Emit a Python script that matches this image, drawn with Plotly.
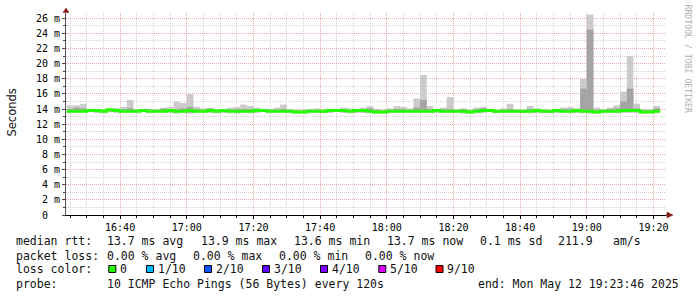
import plotly.graph_objects as go
from datetime import datetime, timedelta

# ---------------- data ----------------
graph_start = "2025-05-12 16:23:46"
graph_end = "2025-05-12 19:23:46"
first_step = "2025-05-12 16:24:00"
step_seconds = 120

# median rtt per 2-minute step (ms)
median = [13.7, 13.7, 13.7, 13.8, 13.8, 13.7, 13.9, 13.8, 13.7, 13.7, 13.7, 13.8, 13.7, 13.7, 13.7, 13.8, 13.7, 13.7, 13.8, 13.7, 13.7, 13.8,
          13.7, 13.8, 13.7, 13.7, 13.7, 13.7, 13.8, 13.8, 13.7, 13.7, 13.7, 13.7, 13.6, 13.6, 13.7, 13.7, 13.7, 13.8, 13.8, 13.8, 13.7, 13.8,
          13.8, 13.7, 13.6, 13.6, 13.7, 13.7, 13.7, 13.7, 13.7, 13.7, 13.7, 13.8, 13.7, 13.7, 13.7, 13.7, 13.6, 13.7, 13.8, 13.8, 13.7, 13.7, 13.7,
          13.7, 13.7, 13.7, 13.8, 13.7, 13.7, 13.8, 13.7, 13.7, 13.8, 13.7, 13.7, 13.6, 13.7, 13.7, 13.7, 13.8, 13.8, 13.8, 13.6, 13.6, 13.7]

# outer smoke (min..max of the pings)
smoke_hi = [14.5, 14.5, 14.7, 14.0, 14.0, 14.0, 14.0, 14.1, 14.3, 15.2, 14.0, 14.0, 14.0, 14.0, 14.1, 14.3, 15.0, 14.8, 16.0, 14.3, 14.1, 14.1,
            14.0, 14.0, 14.2, 14.3, 14.6, 14.4, 14.2, 14.0, 14.0, 14.2, 14.6, 14.0, 13.9, 13.9, 14.0, 14.1, 13.8, 14.0, 14.0, 14.2, 14.1, 14.0,
            14.2, 14.4, 14.0, 13.9, 14.1, 14.4, 14.3, 14.1, 15.4, 18.5, 14.4, 14.0, 14.2, 15.6, 14.0, 14.1, 13.9, 14.2, 14.3, 14.0, 13.9, 14.1, 14.7,
            14.0, 13.9, 14.4, 14.1, 14.0, 13.9, 14.0, 14.2, 14.3, 14.1, 18.0, 26.5, 14.2, 14.0, 14.2, 14.5, 16.3, 21.0, 14.7, 14.0, 14.0, 14.4]
smoke_lo = [13.5, 13.5, 13.5, 13.6, 13.5, 13.5, 13.6, 13.5, 13.5, 13.5, 13.5, 13.6, 13.5, 13.5, 13.5, 13.5, 13.4, 13.5, 13.4, 13.5, 13.5, 13.5,
            13.5, 13.5, 13.5, 13.4, 13.5, 13.5, 13.5, 13.6, 13.5, 13.5, 13.5, 13.5, 13.4, 13.4, 13.5, 13.5, 13.5, 13.5, 13.6, 13.5, 13.5, 13.5,
            13.5, 13.5, 13.4, 13.4, 13.5, 13.5, 13.5, 13.5, 13.5, 13.5, 13.5, 13.5, 13.5, 13.5, 13.5, 13.4, 13.4, 13.5, 13.5, 13.6, 13.5, 13.5, 13.5,
            13.5, 13.5, 13.5, 13.5, 13.5, 13.5, 13.5, 13.5, 13.5, 13.5, 13.5, 13.4, 13.4, 13.5, 13.5, 13.5, 13.5, 13.5, 13.5, 13.4, 13.4, 13.5]
# inner (darker) smoke
inner_hi = [14.0, 14.2, 14.1, 13.95, 13.9, 13.9, 14.0, 14.0, 14.0, 14.1, 13.9, 13.9, 13.9, 13.9, 14.1, 14.0, 14.0, 14.1, 14.3, 14.0, 13.9, 14.1,
            13.9, 14.0, 13.95, 14.0, 14.0, 14.0, 13.95, 13.9, 13.9, 13.95, 14.0, 13.9, 13.8, 13.8, 13.9, 13.9, 13.8, 13.9, 13.9, 14.0, 13.9, 13.9,
            14.0, 14.1, 13.9, 13.8, 13.9, 14.0, 14.0, 13.9, 14.2, 15.2, 14.0, 13.9, 13.95, 14.0, 13.9, 14.0, 13.8, 13.95, 14.1, 13.95, 13.85, 13.9, 14.0,
            13.9, 13.8, 14.0, 13.95, 13.9, 13.85, 14.0, 14.0, 14.0, 13.95, 16.7, 24.5, 13.9, 13.9, 14.0, 14.1, 15.0, 16.7, 14.1, 13.85, 13.85, 14.1]
inner_lo = [13.6, 13.6, 13.6, 13.7, 13.6, 13.6, 13.7, 13.6, 13.6, 13.6, 13.6, 13.7, 13.6, 13.6, 13.6, 13.6, 13.55, 13.6, 13.55, 13.6, 13.6, 13.6,
            13.6, 13.6, 13.6, 13.55, 13.6, 13.6, 13.6, 13.7, 13.6, 13.6, 13.6, 13.6, 13.5, 13.5, 13.6, 13.6, 13.6, 13.6, 13.7, 13.6, 13.6, 13.6,
            13.6, 13.6, 13.5, 13.5, 13.6, 13.6, 13.6, 13.6, 13.6, 13.6, 13.6, 13.6, 13.6, 13.6, 13.6, 13.55, 13.5, 13.6, 13.6, 13.7, 13.6, 13.6, 13.6,
            13.6, 13.6, 13.6, 13.6, 13.6, 13.6, 13.6, 13.6, 13.6, 13.6, 13.6, 13.5, 13.5, 13.6, 13.6, 13.6, 13.6, 13.6, 13.6, 13.5, 13.5, 13.6]

y_tick_vals = [0, 2, 4, 6, 8, 10, 12, 14, 16, 18, 20, 22, 24, 26]
y_tick_text = ["0\u00a0\u00a0", "2 m", "4 m", "6 m", "8 m", "10 m", "12 m", "14 m", "16 m", "18 m", "20 m", "22 m", "24 m", "26 m"]
y_minor_vals = [1, 3, 5, 7, 9, 11, 13, 15, 17, 19, 21, 23, 25]

line1 = [("median rtt:", 16), ("13.7 ms avg", 107.3), ("13.9 ms max", 200.5), ("13.6 ms min", 293.6),
         ("13.7 ms now", 386.7), ("0.1 ms sd", 479.5), ("211.9", 558.3), ("am/s", 613)]
line2 = [("packet loss:", 16), ("0.00 % avg", 107.3), ("0.00 % max", 193.2), ("0.00 % min", 279.1), ("0.00 % now", 365)]
loss_labels = ["0", "1/10", "2/10", "3/10", "4/10", "5/10", "9/10"]
loss_colors = ["#26ff00", "#00b8ff", "#0059ff", "#5e00ff", "#7e00ff", "#dd00ff", "#ff0000"]
loss_box_x = [108.3, 146, 204, 262, 320, 378.3, 435.5]
line4 = [("probe:", 16), ("10 ICMP Echo Pings (56 Bytes) every 120s", 107.3), ("end: Mon May 12 19:23:46 2025", 478.3)]

# ---------------- geometry ----------------
W, H = 697, 297
L, R, T, B = 66, 31, 13, 82
PW, PH = W - L - R, H - T - B


def px(x):
    return (x - L) / PW


def py(y):
    return (H - B - y) / PH


t0 = datetime.fromisoformat(first_step)
n = len(median)
t_start = [t0 + timedelta(seconds=step_seconds * i) for i in range(n)]
t_mid = [t + timedelta(seconds=step_seconds / 2) for t in t_start]
t_line = t_start + [t_start[-1] + timedelta(seconds=step_seconds)]
m_line = median + [median[-1]]

fig = go.Figure()
fig.add_trace(go.Bar(x=t_mid, base=smoke_lo, y=[h - l for h, l in zip(smoke_hi, smoke_lo)],
                     width=step_seconds * 1000, marker=dict(color="#cbcbcb", line=dict(width=0)),
                     hoverinfo="skip", showlegend=False))
fig.add_trace(go.Bar(x=t_mid, base=inner_lo, y=[h - l for h, l in zip(inner_hi, inner_lo)],
                     width=step_seconds * 1000, marker=dict(color="#a4a4a4", line=dict(width=0)),
                     hoverinfo="skip", showlegend=False))
fig.add_trace(go.Scatter(x=t_line, y=m_line, mode="lines", line=dict(color=loss_colors[0], width=3, shape="hv"),
                         hoverinfo="skip", showlegend=False))

major_grid = "rgba(225,90,90,0.5)"
minor_grid = "rgba(150,150,150,0.42)"
dash = "1px,1px"

fig.update_layout(
    width=W, height=H, margin=dict(l=L, r=R, t=T, b=B),
    paper_bgcolor="white", plot_bgcolor="white", barmode="overlay", showlegend=False,
    font=dict(family="DejaVu Sans Mono", size=10, color="#000"),
    xaxis=dict(type="date", range=[graph_start, graph_end], tickformat="%H:%M", dtick=20 * 60 * 1000,
               tick0="2025-05-12 00:00:00", showgrid=True, gridcolor=major_grid, griddash=dash, gridwidth=1,
               ticks="outside", ticklen=3, tickcolor="#000", showline=True, linecolor="#000", linewidth=1,
               zeroline=False, tickfont=dict(family="DejaVu Sans Mono", size=10, color="#000"),
               minor=dict(dtick=5 * 60 * 1000, showgrid=True, gridcolor=minor_grid, griddash=dash, gridwidth=1,
                          ticks="outside", ticklen=2, tickcolor="#000")),
    yaxis=dict(range=[0, 26.7], tickmode="array", tickvals=y_tick_vals, ticktext=y_tick_text,
               showgrid=True, gridcolor=major_grid, griddash=dash, gridwidth=1, zeroline=False,
               ticks="outside", ticklen=3, tickcolor="#444", showline=True, linecolor="#555", linewidth=1,
               tickfont=dict(family="DejaVu Sans Mono", size=10, color="#000"),
               minor=dict(tickmode="array", tickvals=y_minor_vals, showgrid=True, gridcolor=minor_grid,
                          griddash=dash, gridwidth=1, ticks="outside", ticklen=2, tickcolor="#444")),
)

arrow_col = "#8b1a1a"


def ppath(points):
    s = "M " + " L ".join(f"{px(x):.5f},{py(y):.5f}" for x, y in points) + " Z"
    return s


shapes = [
    dict(type="line", xref="paper", yref="paper", x0=px(666), x1=px(668), y0=py(215), y1=py(215),
         line=dict(color="#000", width=1), layer="above"),
    dict(type="path", xref="paper", yref="paper", path=ppath([(667, 212), (673, 215), (667, 218)]),
         fillcolor=arrow_col, line=dict(color=arrow_col, width=0.5), layer="above"),
    dict(type="path", xref="paper", yref="paper", path=ppath([(63, 12.5), (66, 8), (69, 12.5)]),
         fillcolor=arrow_col, line=dict(color=arrow_col, width=0.5), layer="above"),
]
for bx, col in zip(loss_box_x, loss_colors):
    shapes.append(dict(type="rect", xref="paper", yref="paper", x0=px(bx + 0.5), x1=px(bx + 7.5),
                       y0=py(265.5), y1=py(272.5), fillcolor=col, line=dict(color="#000", width=1)))
fig.update_layout(shapes=shapes)

legend_font = dict(family="DejaVu Sans Mono", size=11.5, color="#111")
ann = []


def add_text(text, x, y, font=legend_font, **kw):
    ann.append(dict(text=text, x=px(x), y=py(y), xref="paper", yref="paper", xanchor="left", yanchor="middle",
                    showarrow=False, font=font, borderpad=0, borderwidth=0, **kw))


for txt, x in line1:
    add_text(txt, x, 241)
for txt, x in line2:
    add_text(txt, x, 255.5)
add_text("loss color:", 16, 269)
for bx, lab in zip(loss_box_x, loss_labels):
    add_text(lab, bx + 11.7, 269)
for txt, x in line4:
    add_text(txt, x, 284)

ann.append(dict(text="Seconds", x=px(11.5), y=py(113), xref="paper", yref="paper", xanchor="center", yanchor="middle",
                textangle=-90, showarrow=False, font=dict(family="DejaVu Sans", size=11.5, color="#111")))
ann.append(dict(text="RRDTOOL / TOBI OETIKER", x=px(687.5), y=py(59), xref="paper", yref="paper",
                xanchor="center", yanchor="middle", textangle=90, showarrow=False,
                font=dict(family="DejaVu Sans Mono", size=8.2, color="#b0b0b0")))
fig.update_layout(annotations=ann)

fig.write_html("out.html")
